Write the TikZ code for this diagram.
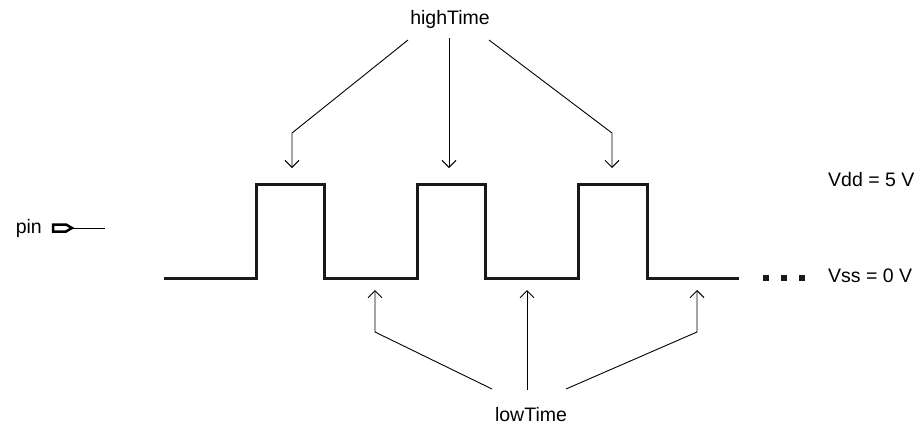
\documentclass[tikz,border=0pt]{standalone}
\usepackage{fontspec}
\setmainfont{Liberation Sans}
\usetikzlibrary{arrows.meta}
\begin{document}
\begin{tikzpicture}[x=1pt,y=-1pt,
  lbl/.style={inner sep=0pt,font=\fontsize{19.5}{22}\selectfont,anchor=base},
  wave/.style={line width=3pt,line join=miter,color=black!90},
  pointer/.style={line width=0.9pt,-{Straight Barb[length=7pt,width=14pt,line width=0.9pt]}},
  dotsq/.style={fill=black!90,minimum size=6pt,inner sep=0pt,draw=none}]
\useasboundingbox (0,0) rectangle (924,424);
% labels
\node[lbl] (ht) at (450,24) {highTime};
\node[lbl] (lt) at (531,421) {lowTime};
\node[lbl,anchor=base west] (vdd) at (828,186) {Vdd = 5 V};
\node[lbl,anchor=base west] (vss) at (828,282) {Vss = 0 V};
\node[lbl,anchor=base east] (pin) at (42,233) {pin};
% pin symbol
\coordinate (pintip) at (72,228);
\coordinate (pinend) at (105,228);
\draw[line width=2.5pt,line join=miter,fill=white] (53,224.5) -- (66,224.5) -- (pintip) -- (66,231.5) -- (53,231.5) -- cycle;
\draw[line width=1pt] (pintip) -- (pinend);
% waveform
\draw[wave] (164,278) -- (256,278) -- (256,184) -- (324,184) -- (324,278)
  -- (417,278) -- (417,184) -- (485,184) -- (485,278)
  -- (578,278) -- (578,184) -- (647,184) -- (647,278) -- (739,278);
\node[dotsq] (d1) at (766,278) {};
\node[dotsq] (d2) at (784,278) {};
\node[dotsq] (d3) at (802,278) {};
% highTime arrows
\coordinate (hs1) at (408,40);
\coordinate (hb1) at (292,133);
\coordinate (ht1) at (292,168);
\coordinate (hs2) at (449,38);
\coordinate (ht2) at (449,168);
\coordinate (hs3) at (489,40);
\coordinate (hb3) at (612,133);
\coordinate (ht3) at (612,168);
\draw[pointer] (hs1) -- (hb1) -- (ht1);
\draw[pointer] (hs2) -- (ht2);
\draw[pointer] (hs3) -- (hb3) -- (ht3);
% lowTime arrows
\coordinate (ls1) at (492,389);
\coordinate (lb1) at (375,332);
\coordinate (lt1) at (375,290);
\coordinate (ls2) at (527,390);
\coordinate (lt2) at (527,290);
\coordinate (ls3) at (566,389);
\coordinate (lb3) at (697,332);
\coordinate (lt3) at (697,290);
\draw[pointer] (ls1) -- (lb1) -- (lt1);
\draw[pointer] (ls2) -- (lt2);
\draw[pointer] (ls3) -- (lb3) -- (lt3);
\end{tikzpicture}
\end{document}
